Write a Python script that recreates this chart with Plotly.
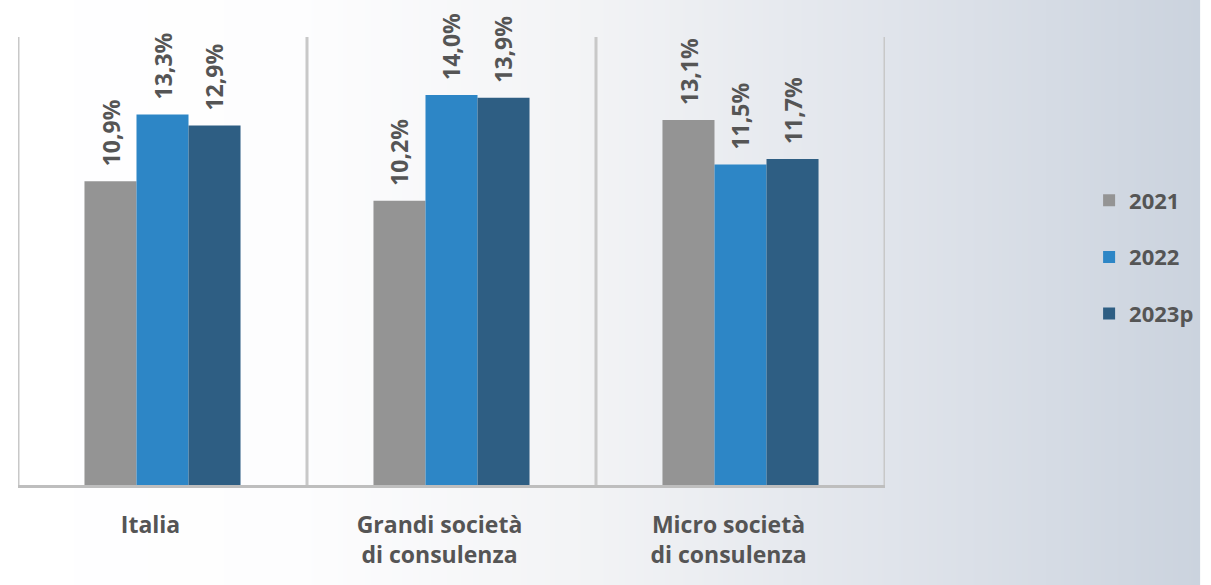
import base64, struct, zlib
import plotly.graph_objects as go

categories = ["Italia", "Grandi società<br>di consulenza", "Micro società<br>di consulenza"]
series_names = ["2021", "2022", "2023p"]
values_2021 = [10.9, 10.2, 13.1]
values_2022 = [13.3, 14.0, 11.5]
values_2023p = [12.9, 13.9, 11.7]
series_values = [values_2021, values_2022, values_2023p]
colors = ["#949494", "#2D86C6", "#2E5E83"]

TXT = "#555555"
FONT = "Open Sans"

# ---- background gradient image (horizontal) ----
stops = [(0, (255, 255, 255)), (300, (253, 253, 254)), (600, (242, 243, 245)),
         (900, (224, 228, 235)), (1211, (203, 211, 222))]

def col_at(px):
    for (x0, c0), (x1, c1) in zip(stops[:-1], stops[1:]):
        if x0 <= px <= x1:
            t = (px - x0) / (x1 - x0)
            return tuple(int(round(a + (b - a) * t)) for a, b in zip(c0, c1))
    return stops[-1][1]

W = 1211
row = b"\x00" + b"".join(bytes(col_at(i)) for i in range(W))
def chunk(tag, data):
    c = struct.pack(">I", len(data)) + tag + data
    return c + struct.pack(">I", zlib.crc32(tag + data) & 0xFFFFFFFF)
png = (b"\x89PNG\r\n\x1a\n" + chunk(b"IHDR", struct.pack(">IIBBBBB", W, 1, 8, 2, 0, 0, 0))
       + chunk(b"IDAT", zlib.compress(row)) + chunk(b"IEND", b""))
bg_uri = "data:image/png;base64," + base64.b64encode(png).decode()

fig = go.Figure()
for i, (name, vals, c) in enumerate(zip(series_names, series_values, colors)):
    fig.add_trace(go.Bar(x=list(range(len(categories))), y=vals, name=name,
                         marker=dict(color=c, line=dict(width=0)),
                         legendgroup=name, hoverinfo="skip"))

bargap = 0.46
bw = (1 - bargap) / len(series_names)
annotations = []
for i, vals in enumerate(series_values):
    off = (i - (len(series_names) - 1) / 2) * bw
    for j, v in enumerate(vals):
        annotations.append(dict(x=j + off, y=v, xref="x", yref="y",
                                text=f"{v:.1f}%".replace(".", ","), showarrow=False,
                                textangle=-90, xanchor="center", yanchor="bottom",
                                yshift=13, font=dict(family=FONT, size=23, color=TXT,
                                                      weight="bold")))

# plot area x 18..893, y 37..485
L, R, T, B = 18, 1211 - 893, 37, 585 - 485
PW, PH = 1211 - L - R, 585 - T - B
fig.update_layout(
    width=1211, height=585,
    margin=dict(l=L, r=R, t=T, b=B, pad=0),
    paper_bgcolor="white", plot_bgcolor="rgba(0,0,0,0)",
    barmode="group", bargap=bargap, bargroupgap=0,
    annotations=annotations,
    images=[dict(source=bg_uri, xref="paper", yref="paper",
                 x=-L / PW, y=1 + T / PH, sizex=1211 / PW, sizey=585 / PH,
                 xanchor="left", yanchor="top", sizing="stretch", layer="below")],
    legend=dict(x=1 + (R - 1) / PW, y=(485 - 257) / PH, xanchor="right", yanchor="middle",
                traceorder="grouped", tracegroupgap=25, bgcolor="rgba(0,0,0,0)",
                font=dict(family=FONT, size=22, color=TXT, weight="bold"),
                itemwidth=30),
    showlegend=True,
    xaxis=dict(tickmode="array", tickvals=list(range(len(categories))), ticktext=categories,
               range=[-0.5, len(categories) - 0.5],
               showgrid=False, showline=True, linecolor="#BEBEBE", linewidth=3,
               ticks="", tickfont=dict(family=FONT, size=23, color=TXT, weight="bold"),
               ticklabelstandoff=17, ticklabelshift=-12, zeroline=False),
    yaxis=dict(range=[0, 16.08], visible=False, showgrid=False, zeroline=False),
    font=dict(family=FONT),
)
# vertical separators at category boundaries
for k in range(len(categories) + 1):
    fig.add_shape(type="line", xref="x", yref="paper", x0=k - 0.5, x1=k - 0.5, y0=0, y1=1,
                  line=dict(color="#C8C8C8", width=3), layer="below")

fig.write_html("out.html", config={"displayModeBar": False},
               post_script="document.body.style.margin='0';")
